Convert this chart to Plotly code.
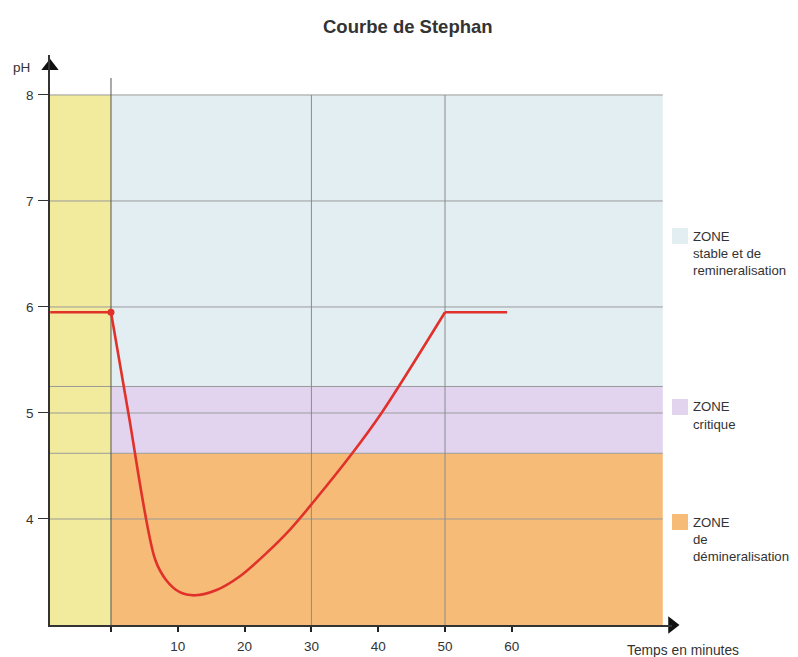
import plotly.graph_objects as go

# ---- data ----
time_min = [-9.1, 0, 2.6, 6.6, 8.3, 10.3, 12.6, 15.8, 19.3, 23.3, 26.8, 30.3, 36.0, 40.5, 50, 59.3]
ph_values = [5.95, 5.95, 5.0, 3.62, 3.42, 3.31, 3.28, 3.33, 3.46, 3.68, 3.90, 4.16, 4.61, 5.0, 5.95, 5.95]

x_ticks = [0, 10, 20, 30, 40, 50, 60]
x_ticklabels = ["", "10", "20", "30", "40", "50", "60"]
y_ticks = [4, 5, 6, 7, 8]

zone_stable = (5.25, 8.0)
zone_critique = (4.62, 5.25)
zone_demin = (3.0, 4.62)
zone_end = 82.6
x_min, x_max = -9.13, 83.98
y_min, y_max = 3.0, 8.377

zone_labels = [
    (["ZONE", "stable et de", "remineralisation"], "#e3eef3", 236),
    (["ZONE", "critique"], "#e2d4ef", 407),
    (["ZONE", "de", "démineralisation"], "#f6bb77", 522),
]

FONT = "Liberation Sans, Arial, sans-serif"
TXT = "#333333"
RED = "#e0312b"

OFF = 8  # page body margin of the html page
W, H = 798 - OFF, 657 - OFF

fig = go.Figure()

n = len(time_min)
# curve: flat start, valley, flat end
fig.add_trace(go.Scatter(x=time_min[:2], y=ph_values[:2], mode="lines",
                         line=dict(color=RED, width=2.6), showlegend=False, hoverinfo="skip"))
fig.add_trace(go.Scatter(x=time_min[1:n - 1], y=ph_values[1:n - 1], mode="lines",
                         line=dict(color=RED, width=2.6, shape="spline", smoothing=0.9),
                         showlegend=False))
fig.add_trace(go.Scatter(x=time_min[n - 2:], y=ph_values[n - 2:], mode="lines",
                         line=dict(color=RED, width=2.6), showlegend=False, hoverinfo="skip"))
fig.add_trace(go.Scatter(x=[time_min[1]], y=[ph_values[1]], mode="markers",
                         marker=dict(color=RED, size=7), showlegend=False, cliponaxis=False))

# axis arrows
fig.add_trace(go.Scatter(x=[x_max], y=[y_min], mode="markers",
                         marker=dict(symbol="triangle-right", size=15, color="#111111"),
                         showlegend=False, cliponaxis=False, hoverinfo="skip"))
fig.add_trace(go.Scatter(x=[x_min], y=[8.27], mode="markers",
                         marker=dict(symbol="triangle-up", size=15, color="#111111"),
                         showlegend=False, cliponaxis=False, hoverinfo="skip"))

shapes = []
# zone fills
shapes.append(dict(type="rect", xref="x", yref="y", x0=x_min, x1=0, y0=3.0, y1=8.0,
                   fillcolor="#f2ea9d", line=dict(width=0), layer="below"))
for (lo, hi), col in zip([zone_stable, zone_critique, zone_demin], ["#e3eef3", "#e2d4ef", "#f6bb77"]):
    shapes.append(dict(type="rect", xref="x", yref="y", x0=0, x1=zone_end, y0=lo, y1=hi,
                       fillcolor=col, line=dict(width=0), layer="below"))
# horizontal grid lines
for yv in y_ticks + [zone_stable[0], zone_critique[0]]:
    shapes.append(dict(type="line", xref="x", yref="y", x0=x_min, x1=zone_end, y0=yv, y1=yv,
                       line=dict(color="#9a9a9a", width=1), layer="below"))
# vertical grid lines
shapes.append(dict(type="line", xref="x", yref="y", x0=0, x1=0, y0=3.0, y1=8.16,
                   line=dict(color="#555555", width=1), layer="below"))
for xv in [30, 50]:
    shapes.append(dict(type="line", xref="x", yref="y", x0=xv, x1=xv, y0=3.0, y1=8.0,
                       line=dict(color="#8a8a8a", width=1), layer="below"))

# page pixel positions -> paper coords
L, R, T, B = 50, 672, 55, 625
def px_x(p):
    return (p - L) / (R - L)
def px_y(p):
    return (B - p) / (B - T)

annotations = []
for lines, col, ytop in zone_labels:
    shapes.append(dict(type="rect", xref="paper", yref="paper",
                       x0=px_x(672), x1=px_x(688), y0=px_y(ytop - 8), y1=px_y(ytop + 8),
                       fillcolor=col, line=dict(width=0)))
    for i, line in enumerate(lines):
        annotations.append(dict(xref="paper", yref="paper", x=px_x(691), y=px_y(ytop + 17.2 * i),
                                text=line, showarrow=False, xanchor="left", yanchor="middle",
                                align="left", font=dict(family=FONT, size=13.2, color=TXT)))

annotations.append(dict(xref="paper", yref="paper", x=px_x(21), y=px_y(68), text="pH",
                        showarrow=False, xanchor="center", yanchor="middle",
                        font=dict(family=FONT, size=13.5, color=TXT)))
annotations.append(dict(xref="paper", yref="paper", x=px_x(683), y=px_y(650), text="Temps en minutes",
                        showarrow=False, xanchor="center", yanchor="middle",
                        font=dict(family=FONT, size=13.8, color=TXT)))
annotations.append(dict(xref="paper", yref="paper", x=px_x(408), y=px_y(26),
                        text="<b>Courbe de Stephan</b>", showarrow=False,
                        xanchor="center", yanchor="middle",
                        font=dict(family=FONT, size=18.5, color=TXT)))

fig.update_layout(
    width=W, height=H,
    margin=dict(l=L - OFF, r=798 - R, t=T - OFF, b=657 - B, autoexpand=False),
    paper_bgcolor="white", plot_bgcolor="white",
    shapes=shapes, annotations=annotations,
    xaxis=dict(range=[x_min, x_max], showgrid=False, zeroline=False, showline=True,
               automargin=False,
               linecolor="#333333", linewidth=1.5, tickvals=x_ticks, ticktext=x_ticklabels,
               ticks="outside", ticklen=5, tickwidth=2, tickcolor="#222222",
               tickfont=dict(family=FONT, size=13.5, color=TXT), ticklabelstandoff=3),
    yaxis=dict(range=[y_min, y_max], showgrid=False, zeroline=False, showline=True,
               automargin=False,
               linecolor="#333333", linewidth=1.5, tickvals=y_ticks,
               ticks="outside", ticklen=10, tickwidth=1, tickcolor="#333333",
               tickfont=dict(family=FONT, size=13.5, color=TXT), ticklabelstandoff=2),
    showlegend=False,
)

fig.write_html("out.html")
